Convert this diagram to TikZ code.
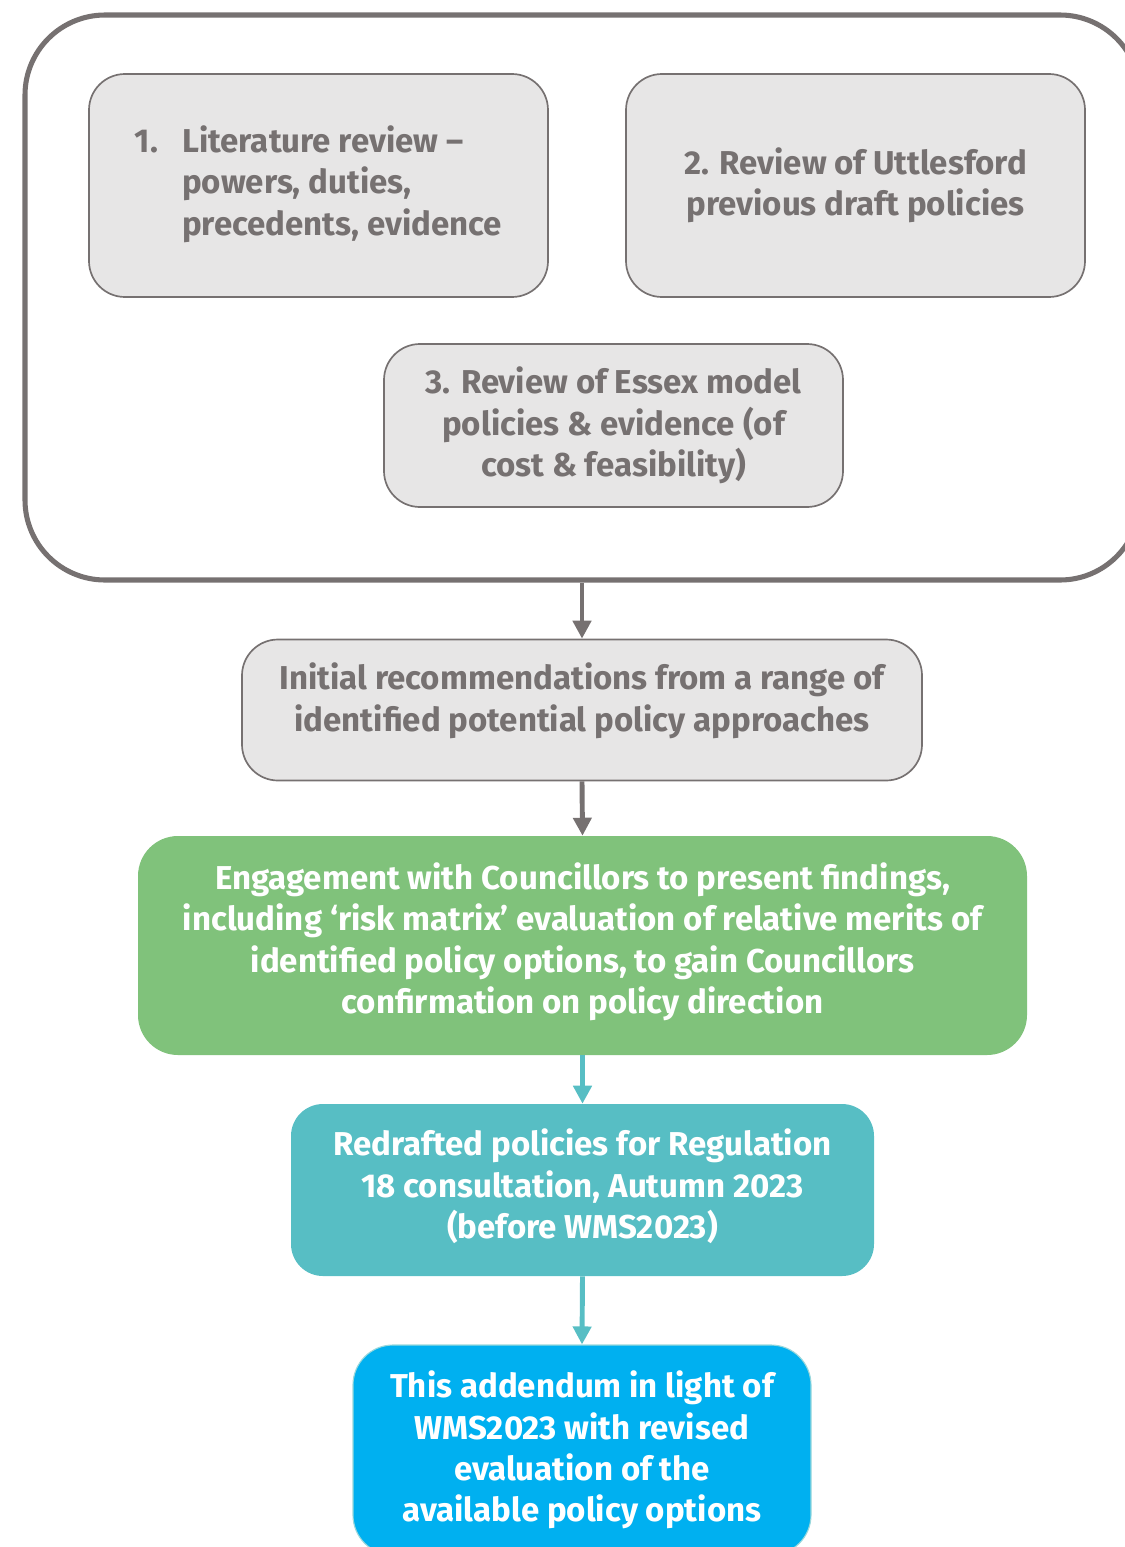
\documentclass[tikz,border=0pt]{standalone}
\usepackage{fontspec}
\setmainfont{Fira Sans}
\usepackage{tikz}
\usetikzlibrary{arrows.meta, positioning}
\definecolor{greyfill}{HTML}{E7E6E6}
\definecolor{greyline}{HTML}{767171}
\definecolor{greenbox}{HTML}{80C27B}
\definecolor{tealbox}{HTML}{57BEC4}
\definecolor{bluebox}{HTML}{00B0F0}
\newcommand{\boxfont}{\fontsize{23.5}{29.5}\selectfont\bfseries}

\begin{document}
\begin{tikzpicture}[>={Triangle[length=0.45cm,width=0.45cm]},
    greystep/.style={draw=greyline, line width=1.2pt, fill=greyfill, rounded corners=0.9cm,
      text=greyline, font=\boxfont, align=center, inner sep=0pt},
    colstep/.style={rounded corners=1cm, text=white, font=\boxfont, align=center, inner sep=0pt},
    greyarrow/.style={->, draw=greyline, line width=3.5pt},
    tealarrow/.style={->, draw=tealbox, line width=3.5pt}]
    \useasboundingbox (0,0) rectangle (28.125,-38.675);
    \node[draw=greyline, line width=3.6pt, rounded corners=2cm, minimum width=27.875cm,
      minimum height=14.125cm] (group) at (14.5625,-7.4375) {};
    \node[greystep, minimum width=11.475cm, minimum height=5.575cm] (lit) at (7.9625,-4.6375)
      {\begin{tabular}{@{}l@{\hspace{0.6cm}}l@{}}1. & Literature review –\\ & powers, duties,\\ & precedents, evidence\end{tabular}};
    \node[greystep, minimum width=11.475cm, minimum height=5.575cm] (prev) at (21.3875,-4.6375)
      {2. Review of Uttlesford\\previous draft policies};
    \node[greystep, minimum width=11.475cm, minimum height=4.075cm] (essex) at (15.3375,-10.6375)
      {3. Review of Essex model\\policies \& evidence (of\\cost \& feasibility)};
    \node[greystep, minimum width=17cm, minimum height=3.525cm] (init) at (14.55,-17.75)
      {Initial recommendations from a range of\\identified potential policy approaches\\[-11pt]};
    \node[colstep, fill=greenbox, minimum width=22.225cm, minimum height=5.475cm] (engage) at (14.5625,-23.6375)
      {Engagement with Councillors to present findings,\\including ‘risk matrix’ evaluation of relative merits of\\identified policy options, to gain Councillors\\confirmation on policy direction\\[-19pt]};
    \node[colstep, fill=tealbox, rounded corners=0.8cm, minimum width=14.575cm, minimum height=4.3cm] (redraft) at (14.5625,-29.75)
      {Redrafted policies for Regulation\\18 consultation, Autumn 2023\\(before WMS2023)\\[-21pt]};
    \node[colstep, fill=bluebox, draw=tealbox!60, line width=0.8pt, minimum width=11.45cm, minimum height=5.25cm] (addendum) at (14.55,-36.25)
      {This addendum in light of\\WMS2023 with revised\\evaluation of the\\available policy options};
    \draw[greyarrow] (group.south -| init.north) -- (init.north);
    \draw[greyarrow] (init.south) -- (engage.north);
    \draw[tealarrow] (engage.south) -- (redraft.north);
    \draw[tealarrow] (redraft.south) -- (addendum.north);
  \end{tikzpicture}
\end{document}
